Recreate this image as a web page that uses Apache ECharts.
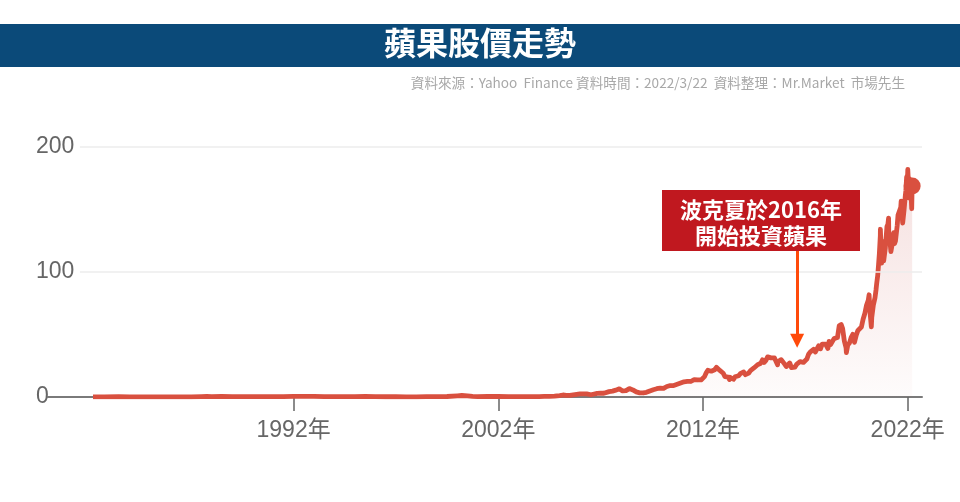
<!DOCTYPE html>
<html>
<head>
<meta charset="utf-8">
<script src="https://cdn.jsdelivr.net/npm/echarts@6/dist/echarts.min.js"></script>
<style>html,body{margin:0;padding:0;background:#fff}#c{width:960px;height:502px}</style>
</head>
<body>
<div id="c"></div>
<script>
// ---- data (split-adjusted AAPL price, USD) ----
const dates = [
'1982-03-15','1982-09-30','1983-06-15','1983-12-30','1984-06-29','1985-06-28','1985-12-31','1986-06-30','1986-12-31',
'1987-06-30','1987-10-05','1987-12-31','1988-06-30','1988-12-30','1989-06-30','1989-12-29','1990-06-29','1990-12-31',
'1991-06-28','1991-12-31','1992-06-30','1992-12-31','1993-06-30','1993-12-31','1994-06-30','1994-12-30','1995-06-30',
'1995-12-29','1996-06-28','1996-12-31','1997-06-30','1997-12-31','1998-06-30','1998-12-31','1999-06-30','1999-12-31',
'2000-03-22','2000-06-30','2000-09-29','2000-12-29','2001-06-29','2001-12-31','2002-06-28','2002-12-31','2003-06-30','2003-12-31',
'2004-03-31','2004-06-30','2004-09-30','2004-12-31',
'2005-02-28','2005-04-29','2005-06-30','2005-09-30','2005-12-30',
'2006-01-31','2006-04-28','2006-07-14','2006-10-31','2006-12-29',
'2007-02-28','2007-05-31','2007-07-31','2007-08-31','2007-09-28','2007-10-31','2007-11-30','2007-12-31',
'2008-01-28','2008-02-28','2008-03-28','2008-04-28','2008-05-28','2008-06-28','2008-07-28','2008-08-28','2008-09-28','2008-10-28','2008-11-28','2008-12-28',
'2009-01-28','2009-02-28','2009-03-28','2009-04-28','2009-05-28','2009-06-28','2009-07-28','2009-08-28','2009-09-28','2009-10-28','2009-11-28','2009-12-28',
'2010-01-28','2010-02-28','2010-03-28','2010-04-28','2010-05-28','2010-06-28','2010-07-28','2010-08-28','2010-09-28','2010-10-28','2010-11-28','2010-12-28',
'2011-01-28','2011-02-28','2011-03-28','2011-04-28','2011-05-28','2011-06-28','2011-07-28','2011-08-28','2011-09-28','2011-10-28','2011-11-28','2011-12-28',
'2012-01-28','2012-02-28','2012-03-28','2012-04-28','2012-05-28','2012-06-28','2012-07-28','2012-08-28','2012-09-19','2012-09-28','2012-10-28','2012-11-28','2012-12-28',
'2013-01-28','2013-02-28','2013-03-28','2013-04-19','2013-04-28','2013-05-28','2013-06-28','2013-07-28','2013-08-28','2013-09-28','2013-10-28','2013-11-28','2013-12-28',
'2014-01-28','2014-02-28','2014-03-28','2014-04-28','2014-05-28','2014-06-28','2014-07-28','2014-08-28','2014-09-28','2014-10-28','2014-11-28','2014-12-28',
'2015-01-28','2015-02-28','2015-03-28','2015-04-28','2015-05-28','2015-06-28','2015-07-28','2015-08-24','2015-08-28','2015-09-28','2015-10-28','2015-11-28','2015-12-28',
'2016-01-28','2016-02-28','2016-03-28','2016-04-28','2016-05-12','2016-05-28','2016-06-28','2016-07-28','2016-08-28','2016-09-28','2016-10-28','2016-11-28','2016-12-28',
'2017-01-28','2017-02-28','2017-03-28','2017-04-28','2017-05-28','2017-06-28','2017-07-28','2017-08-28','2017-09-28','2017-10-28','2017-11-28','2017-12-28',
'2018-01-28','2018-02-08','2018-02-28','2018-03-12','2018-03-28','2018-04-20','2018-04-28','2018-05-28','2018-06-28','2018-07-28','2018-08-28','2018-09-28','2018-10-03','2018-10-28','2018-11-28','2018-12-28',
'2019-01-03','2019-01-28','2019-02-28','2019-03-28','2019-04-28','2019-05-28','2019-06-03','2019-06-28','2019-07-28','2019-08-28','2019-09-28','2019-10-28','2019-11-28','2019-12-28',
'2020-01-28','2020-02-12','2020-02-28','2020-03-23','2020-03-31','2020-04-28','2020-05-28','2020-06-15','2020-06-28','2020-07-15','2020-07-31','2020-08-14','2020-08-31','2020-09-01','2020-09-23','2020-09-30','2020-10-12','2020-10-30','2020-11-28','2020-12-28','2020-12-31',
'2021-01-26','2021-01-29','2021-02-26','2021-03-08','2021-03-31','2021-04-28','2021-05-12','2021-05-28','2021-06-28','2021-07-13','2021-07-30','2021-08-31','2021-09-07','2021-09-30','2021-10-04','2021-10-29','2021-11-19','2021-11-30','2021-12-13','2021-12-31',
'2022-01-03','2022-01-27','2022-01-31','2022-02-09','2022-02-23','2022-02-28','2022-03-14','2022-03-22'
];
const prices = [
0.09,0.10,0.22,0.11,0.12,0.07,0.10,0.15,0.17,
0.30,0.45,0.36,0.41,0.36,0.38,0.31,0.33,0.38,
0.37,0.49,0.42,0.53,0.34,0.26,0.26,0.35,0.41,
0.29,0.19,0.19,0.13,0.12,0.25,0.37,0.41,0.92,
1.21,0.93,0.46,0.27,0.41,0.39,0.32,0.26,0.34,0.38,
0.48,0.58,0.69,1.15,
1.60,1.29,1.31,1.91,2.57,
2.70,2.51,1.81,2.89,3.03,
3.02,4.33,4.71,4.95,5.48,6.78,6.51,7.07,
4.84,4.46,5.13,6.21,6.74,5.98,5.68,6.05,4.06,3.84,3.31,3.05,
3.22,3.19,3.75,4.49,4.85,5.09,5.84,6.01,6.62,6.73,7.14,7.53,
6.86,7.31,8.39,9.33,9.17,8.98,9.19,8.68,10.13,10.75,11.11,11.52,
12.12,12.61,12.45,12.50,12.42,11.99,13.95,13.74,13.62,14.46,13.65,14.46,
16.30,19.37,21.41,20.86,20.63,20.86,21.81,23.76,25.07,23.82,21.26,20.90,19.01,
16.27,15.76,15.81,13.93,15.81,16.06,14.16,16.16,17.40,17.03,18.67,19.86,20.04,
17.88,18.79,19.17,21.08,22.61,23.23,23.90,25.63,25.19,27.00,29.73,27.60,
29.29,32.12,31.11,31.29,32.57,31.36,30.33,25.70,28.19,27.58,29.88,29.58,26.32,
24.34,24.17,27.25,23.44,22.60,24.97,23.90,26.05,26.53,28.26,28.39,27.63,28.96,
30.34,34.25,35.92,35.91,38.19,36.00,37.18,41.00,38.53,42.26,42.96,42.31,
41.86,38.80,44.53,45.40,41.95,41.40,41.31,46.72,46.28,47.57,56.91,56.44,58.00,54.72,44.65,39.44,
35.55,41.61,43.29,47.49,50.17,43.77,43.30,49.48,53.26,52.19,55.99,62.19,66.81,73.41,
77.38,81.80,68.34,56.09,63.57,73.45,79.49,85.70,91.20,97.10,106.26,114.90,129.04,134.18,107.12,115.81,124.40,108.86,119.05,136.69,132.69,
143.16,131.96,121.26,116.36,122.15,131.46,122.77,124.61,136.96,145.64,145.86,151.83,156.69,141.50,139.14,149.80,160.55,165.30,175.74,177.57,
182.01,159.22,174.78,176.28,160.07,165.12,150.62,168.82
];
const xTickYears = [1992, 2002, 2012, 2022];
const yTicks = [0, 100, 200];
const titleText = '蘋果股價走勢';
const sourceText = '資料來源：Yahoo  Finance 資料時間：2022/3/22  資料整理：Mr.Market  市場先生';
const noteLines = ['波克夏於2016年', '開始投資蘋果'];
const noteYear = 2016.6;
const noteFrom = 117, noteTo = 45;

function toYear(s) {
  const d = new Date(s + 'T00:00:00Z');
  const y = d.getUTCFullYear();
  const a = Date.UTC(y, 0, 1), b = Date.UTC(y + 1, 0, 1);
  return y + (d.getTime() - a) / (b - a);
}
const seriesData = dates.map((d, i) => [toYear(d), prices[i]]);
const lastPoint = seriesData[seriesData.length - 1];

const xMin = 1980, xMax = 2022.7, gridStartYear = 1981.56;
const labelFont = '"Liberation Sans", Arial, "Noto Sans CJK TC", sans-serif';
const cjkFont = '"Noto Sans CJK TC", "Noto Sans CJK SC", sans-serif';

const chart = echarts.init(document.getElementById('c'), null, {renderer: 'canvas', width: 960, height: 502});
chart.setOption({
  animation: false,
  backgroundColor: '#ffffff',
  grid: {left: 48, right: 38, top: 147, bottom: 105, containLabel: false, outerBoundsMode: 'none'},
  xAxis: {
    type: 'value', min: xMin, max: xMax,
    axisLine: {show: true, lineStyle: {color: '#7a7a7a', width: 2}},
    axisTick: {show: true, length: 14, customValues: xTickYears, lineStyle: {color: '#666', width: 1.5}},
    axisLabel: {show: true, customValues: xTickYears, margin: 22, fontSize: 23, color: '#666',
      fontFamily: labelFont, formatter: v => v + '年'},
    splitLine: {show: false}
  },
  yAxis: {
    type: 'value', min: 0, max: 200, interval: 100,
    axisLine: {show: false}, axisTick: {show: false},
    axisLabel: {show: true, align: 'left', margin: 12, fontSize: 23, color: '#666', fontFamily: labelFont,
      customValues: yTicks},
    splitLine: {show: false}
  },
  series: [
    {
      type: 'line', data: seriesData, showSymbol: false, symbol: 'none', smooth: false,
      lineStyle: {color: '#d9503f', width: 4.8, join: 'round'},
      areaStyle: {color: new echarts.graphic.LinearGradient(0, 0, 0, 1, [
        {offset: 0, color: 'rgba(205,95,90,0.28)'},
        {offset: 1, color: 'rgba(205,95,90,0.03)'}
      ])},
      z: 3,
      markLine: {
        silent: true, symbol: 'none', label: {show: false}, animation: false,
        lineStyle: {color: '#ececec', width: 1.5, type: 'solid'},
        data: yTicks.filter(v => v > 0).map(v => [{coord: [gridStartYear, v]}, {coord: [xMax, v]}])
      }
    },
    {
      type: 'scatter', data: [lastPoint], symbol: 'circle', symbolSize: 17,
      itemStyle: {color: '#d9503f', opacity: 1}, z: 5,
      markLine: {
        silent: true, symbol: ['none', 'triangle'], symbolSize: 14, label: {show: false}, animation: false,
        lineStyle: {color: '#ff4a0a', width: 3, type: 'solid'},
        itemStyle: {color: '#ff4a0a'},
        data: [[{coord: [noteYear, noteFrom]}, {coord: [noteYear, noteTo]}]]
      }
    }
  ],
  graphic: [
    {type: 'rect', left: 0, top: 24, shape: {width: 960, height: 43}, style: {fill: '#0b4a79'}, z: 10},
    {type: 'text', left: 'center', top: 27, style: {text: titleText, fill: '#fff', font: 'bold 32px ' + cjkFont}, z: 11},
    {type: 'text', right: 55, top: 76, style: {text: sourceText, fill: '#a8a8a8', font: '13.6px ' + cjkFont}, z: 11},
    {type: 'rect', left: 662, top: 190, shape: {width: 198, height: 61}, style: {fill: '#c0181f'}, z: 10},
    {type: 'text', x: 761, y: 210, style: {text: noteLines[0], fill: '#fff', font: 'bold 22px ' + cjkFont, align: 'center', verticalAlign: 'middle'}, z: 11},
    {type: 'text', x: 761, y: 236, style: {text: noteLines[1], fill: '#fff', font: 'bold 22px ' + cjkFont, align: 'center', verticalAlign: 'middle'}, z: 11}
  ]
});
</script>
</body>
</html>
